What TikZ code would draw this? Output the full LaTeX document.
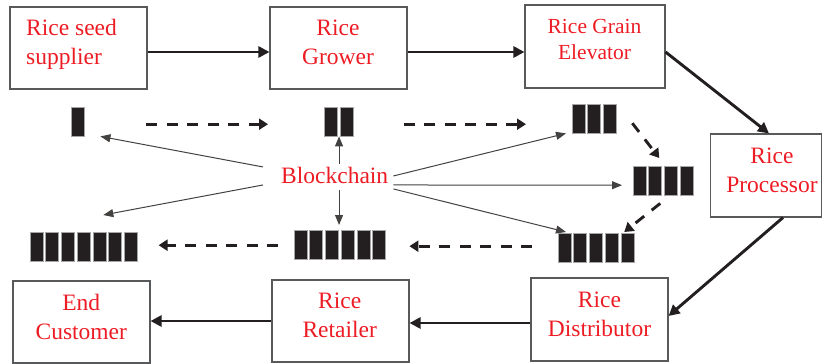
\documentclass[tikz,border=0pt]{standalone}
\usepackage{fontspec}
\setmainfont{Liberation Serif}
\usetikzlibrary{arrows.meta,calc}
\definecolor{labelred}{RGB}{237,28,36}
\definecolor{ink}{RGB}{35,31,32}
\definecolor{frame}{RGB}{88,89,91}
\begin{document}
\begin{tikzpicture}[x=1pt,y=-1pt,
  stage/.style={draw=frame,line width=1.1pt,inner sep=0,minimum width=137pt,minimum height=82pt},
  lbl/.style={text=labelred,font=\fontsize{23.5}{28.5}\selectfont,inner sep=0,align=center},
  flow/.style={draw=ink,line width=2.9pt,-{Triangle[length=11pt,width=11pt]}},
  ledger/.style={draw=ink,line width=2.9pt,dash pattern=on 11pt off 9.5pt,-{Triangle[length=9pt,width=11pt]}},
  link/.style={draw=ink!85,line width=1pt,-{Triangle[length=10pt,width=8pt]}},
  blk/.style={fill=ink,draw=gray!70,line width=0.5pt}
]
\useasboundingbox (0,0) rectangle (822,364);

% supply-chain stages
\node[stage] (seed) at (78.5,48) {};
\node[stage] (grower) at (338.5,48) {};
\node[stage,minimum width=140pt,minimum height=83pt] (elev) at (595,46.5) {};
\node[stage,minimum width=111pt,minimum height=83pt] (proc) at (766,175.5) {};
\node[stage,minimum height=83pt] (dist) at (599.5,319.5) {};
\node[stage] (ret) at (340.5,321) {};
\node[stage] (cust) at (81.5,322) {};

% stage names (base anchor sits on the last line)
\node[lbl,align=left,anchor=base west] (seed-t) at (26,64) {Rice seed\\supplier};
\node[lbl,anchor=base] (grower-t) at (338,64) {Rice\\Grower};
\node[lbl,anchor=base,font=\fontsize{21.5}{26}\selectfont] (elev-t) at (594.5,59) {Rice Grain\\Elevator};
\node[lbl,anchor=base] (proc-t) at (772,192) {Rice\\Processor};
\node[lbl,anchor=base] (dist-t) at (599.5,336) {Rice\\Distributor};
\node[lbl,anchor=base] (ret-t) at (339.7,337) {Rice\\Retailer};
\node[lbl,anchor=base] (cust-t) at (81.3,339) {End\\Customer};

% ledger blocks growing along the chain
\foreach \g/\x/\y/\k in {g1/71/107/1,g2/324.5/107/2,g3/572/104/3,g4/633/166/4,g5/558/233/5,g6/294/230/6,g7/30/232/7}{
  \node[inner sep=0,minimum height=29pt,minimum width={(\k-1)*15.7pt+13pt},anchor=north west] (\g) at (\x,\y) {};
  \foreach \i in {1,...,\k} \draw[blk] ({\x+(\i-1)*15.7},\y) rectangle ++(13,29);
}

\node[lbl,anchor=base west] (bc) at (281,183) {Blockchain};

% physical flow
\draw[flow] ($(seed.east)+(0,4)$) -- ($(grower.west)+(0,4)$);
\draw[flow] ($(grower.east)+(0,4)$) -- ($(elev.west)+(0,5.5)$);
\draw[flow] ($(elev.east)+(0,5.5)$) -- ($(proc.north)+(3,0)$);
\draw[flow] ($(proc.south)+(17,0)$) -- ($(dist.east)+(0,-3.5)$);
\draw[flow] ($(dist.west)+(0,3.5)$) -- ($(ret.east)+(0,2)$);
\draw[flow] (ret.west) -- ($(cust.east)+(0,-1)$);

% ledger growth
\draw[ledger,shorten <=62pt,shorten >=56.5pt] ($(g1.east)+(0,2.5)$) -- ($(g2.west)+(0,2.5)$);
\draw[ledger,shorten <=50pt,shorten >=46pt] ($(g2.east)+(0,2.5)$) -- ($(g3.west)+(0,5.5)$);
\draw[ledger] ($(g3.east)+(15.5,4.5)$) -- ($(g4.north)+(-4,-8)$);
\draw[ledger] ($(g4.south)+(-3,8)$) -- ($(g5.north east)+(-10,-1)$);
\draw[ledger] ($(g5.west)+(-26,-1.5)$) -- ($(g6.east)+(23.5,1.5)$);
\draw[ledger] ($(g6.west)+(-16,0.5)$) -- ($(g7.east)+(21,-1.5)$);

% blockchain links
\draw[link] ($(bc.west)+(-18,-8)$) -- ($(g1.south east)+(16,0)$);
\draw[link] ($(bc.west)+(-18,10)$) -- ($(g7.north)+(19.5,-17)$);
\draw[link] ($(bc.north -| g2.south)+(0,-2)$) -- (g2.south);
\draw[link] ($(bc.south -| g2.south)+(0,7)$) -- ($(g2.south |- g6.north)+(0,-5)$);
\draw[link] ($(bc.east)+(5,1)$) -- ($(g3.south west)+(-6,0)$);
\draw[link] ($(bc.east)+(5,10)$) -- ($(g4.west)+(-11,4.5)$);
\draw[link] ($(bc.east)+(5,14)$) -- ($(g5.north west)+(8,-1)$);
\end{tikzpicture}
\end{document}
